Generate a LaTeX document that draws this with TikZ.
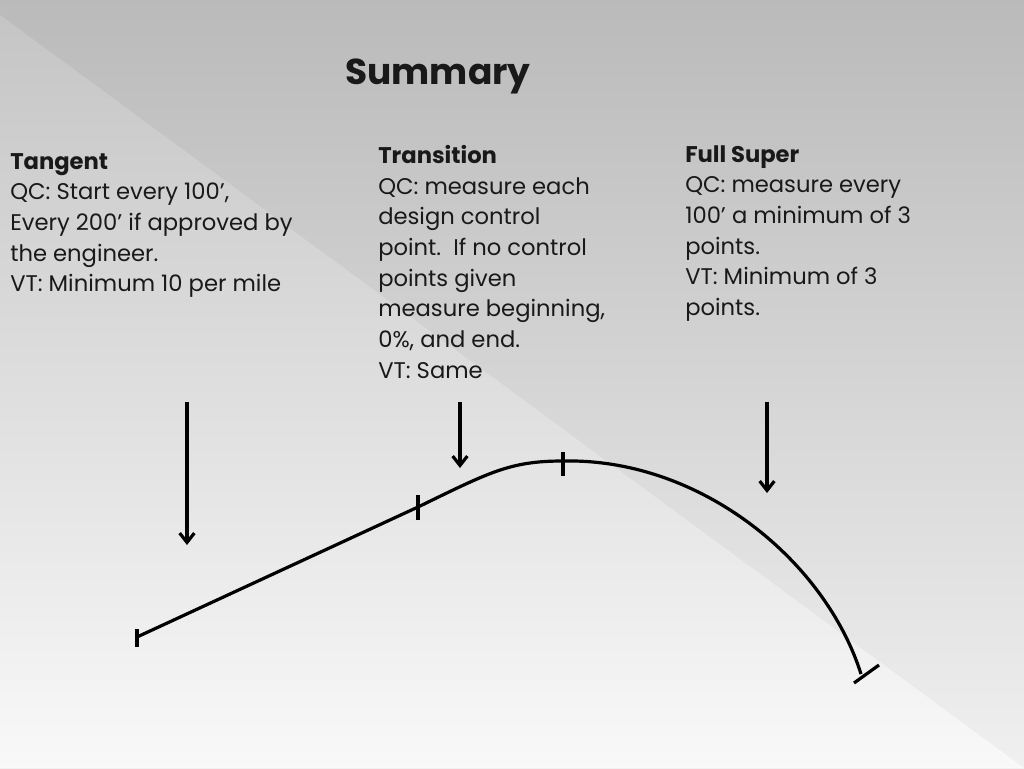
\documentclass[tikz,border=0pt]{standalone}
\usepackage{fontspec}
\setmainfont{Poppins}
\usetikzlibrary{arrows.meta}
\begin{document}
\begin{tikzpicture}[x=0.75pt,y=-0.75pt,
  txt/.style={anchor=north west,align=left,inner sep=0pt,font=\fontsize{17pt}{23pt}\selectfont,text=black!90},
  arr/.style={line width=2.4pt,-{Straight Barb[length=7pt,width=11pt]}},
  crv/.style={line width=2.4pt},
  tk/.style={line width=2.4pt}]
\useasboundingbox (0,0) rectangle (1024,768);
\shade[top color=black!27,bottom color=black!6] (0,0) rectangle (1024,768);
\shade[top color=black!20,bottom color=white,opacity=0.6] (0,15) -- (1024,768) -- (0,768) -- cycle;
\node[anchor=center,font=\fontsize{27pt}{32pt}\selectfont\bfseries,text=black!90] (title) at (438,76) {Summary};
\node[txt] (tan) at (10,153) {\textbf{Tangent}\\QC: Start every 100’,\\Every 200’ if approved by\\the engineer.\\VT: Minimum 10 per mile};
\node[txt] (tra) at (378,145) {\textbf{Transition}\\QC: measure each\\design control\\point.\ \ If no control\\points given\\measure beginning,\\0\%, and end.\\VT: Same};
\node[txt] (ful) at (685,145) {\textbf{Full Super}\\QC: measure every\\100’ a minimum of 3\\points.\\VT: Minimum of 3\\points.};
\coordinate (a1s) at (187,402); \coordinate (a1e) at (187,545);
\coordinate (a2s) at (460,402); \coordinate (a2e) at (460,468);
\coordinate (a3s) at (767,402); \coordinate (a3e) at (767,493);
\draw[arr] (a1s) -- (a1e);
\draw[arr] (a2s) -- (a2e);
\draw[arr] (a3s) -- (a3e);
\coordinate (p0) at (137,637);
\coordinate (p1) at (418,507);
\coordinate (p2) at (563,461);
\coordinate (p3) at (861,674);
\draw[crv] (p0) -- (p1) .. controls (490,472) and (510,461) .. (p2)
  .. controls (700,458) and (825,560) .. (p3);
\draw[tk] (137,629) -- (137,647);
\draw[tk] (418,495) -- (418,520);
\draw[tk] (563,452) -- (563,476);
\draw[tk] (854,683) -- (879,665);
\end{tikzpicture}
\end{document}
